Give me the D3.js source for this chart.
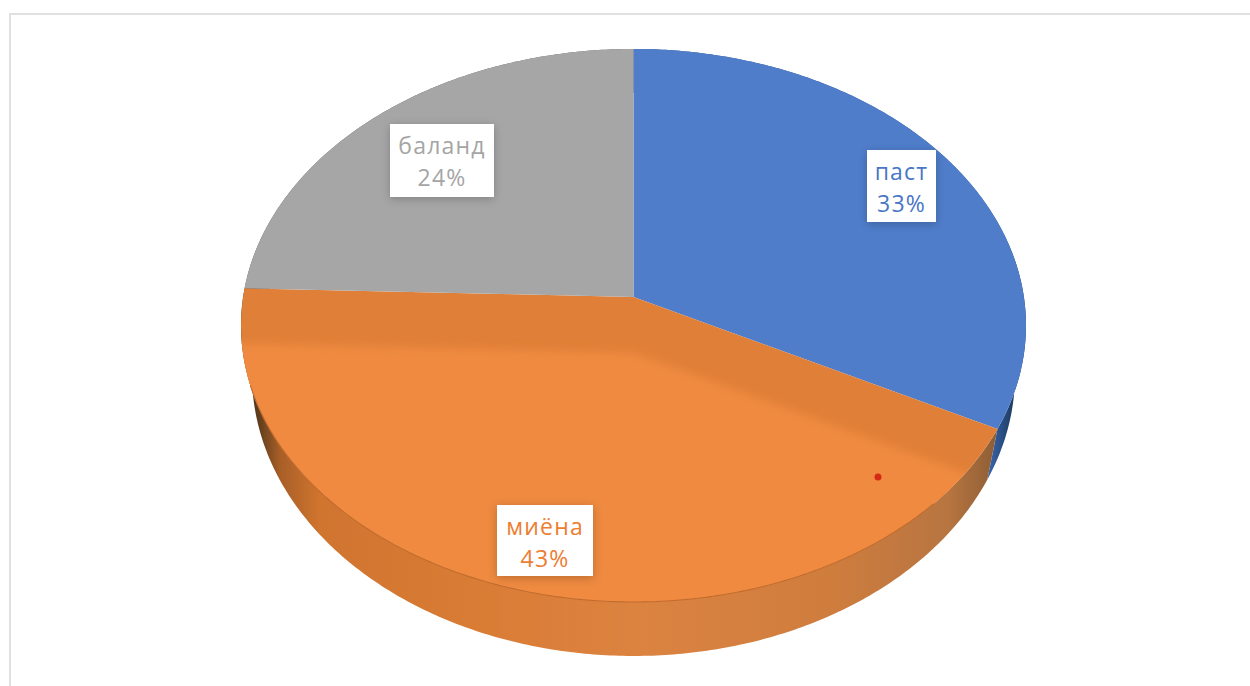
<!DOCTYPE html>
<html>
<head>
<meta charset="utf-8">
<script src="https://cdn.jsdelivr.net/npm/d3@7"></script>
<style>
html, body { margin: 0; padding: 0; background: #fff; }
svg { display: block; }
text { font-family: "Open Sans", sans-serif; }
</style>
</head>
<body>
<div id="chart"></div>
<script>
var categories = ['паст', 'миёна', 'баланд'];
var shares = [32.6, 42.91, 24.49];
var shareLabels = ['33%', '43%', '24%'];
var sliceColors = ['#4f7dca', '#ef8a41', '#a6a6a6'];
var textColors = ['#4a76c6', '#ed7d31', '#a5a5a5'];

var width = 1250;
var height = 686;

// perspective of the tilted disc
var apexX = 633.5;
var apexY = 297;
var spreadX = 390.4;
var spreadY = 273.6;
var tilt = 0.103;
var depth = 48.4;
var taper = 0.028;

// label boxes, [left, top, right, bottom]
var labelBoxes = [[867, 150, 936, 222], [497, 505, 593, 576], [390, 124, 494, 197]];

function project(x, y, z) {
	var w = 1 - tilt * y;
	return [apexX + x * spreadX * (1 - taper * z) / w, apexY + (y * spreadY + z * depth) / w];
}

function rimPoint(angle, z) {
	return project(Math.sin(angle), -Math.cos(angle), z);
}

function rimPoints(a0, a1, z) {
	var n = Math.ceil(Math.abs(a1 - a0) / 0.01);
	return d3.range(n + 1).map(function (i) {
		return rimPoint(a0 + (a1 - a0) * i / n, z);
	});
}

var line = d3.line();
var arcs = d3.pie().sort(null)(shares);

var svg = d3.select('#chart').append('svg')
	.attr('width', width)
	.attr('height', height);

var defs = svg.append('defs');

function wallGradient(id, stops) {
	var g = defs.append('linearGradient')
		.attr('id', id)
		.attr('gradientUnits', 'userSpaceOnUse')
		.attr('x1', 241).attr('x2', 1026).attr('y1', 0).attr('y2', 0);
	stops.forEach(function (s) {
		g.append('stop').attr('offset', s[0]).attr('stop-color', s[1]);
	});
}
wallGradient('wall0', [[0, '#22344f'], [0.95, '#3a68b0'], [0.985, '#1e3a60'], [1, '#1e3a60']]);
wallGradient('wall1', [[0, '#3a2a18'], [0.02, '#5a3a1c'], [0.05, '#a85f28'], [0.1, '#d0742f'],
	[0.3, '#d97c35'], [0.5, '#dc8340'], [0.75, '#cf7d3e'], [0.9, '#b87540'], [0.96, '#8f5f36'], [1, '#8f5f36']]);
wallGradient('wall2', [[0, '#555'], [1, '#777']]);

var shadow = defs.append('filter').attr('id', 'boxShadow')
	.attr('x', '-30%').attr('y', '-30%').attr('width', '160%').attr('height', '160%');
shadow.append('feDropShadow')
	.attr('dx', 0).attr('dy', 2).attr('stdDeviation', 5)
	.attr('flood-color', '#000').attr('flood-opacity', 0.22);

var soft = defs.append('filter').attr('id', 'soft')
	.attr('x', '-10%').attr('y', '-10%').attr('width', '120%').attr('height', '120%');
soft.append('feGaussianBlur').attr('stdDeviation', 4.5);

var edge = defs.append('filter').attr('id', 'edge')
	.attr('filterUnits', 'userSpaceOnUse')
	.attr('x', 0).attr('y', 0).attr('width', width).attr('height', height);
edge.append('feGaussianBlur').attr('stdDeviation', 0.7);

// frame of the chart area, open on the right and at the bottom
svg.append('path')
	.attr('d', line([[10, height], [10, 14], [width, 14]]))
	.attr('fill', 'none')
	.attr('stroke', '#e0e0e0')
	.attr('stroke-width', 2)
	.attr('filter', 'url(#edge)');

var pie = svg.append('g').attr('filter', 'url(#edge)');

// outer wall goes first, the top faces cover its back half
pie.append('g').selectAll('path')
	.data(arcs)
	.enter()
	.append('path')
	.attr('d', function (d) {
		var top = rimPoints(d.startAngle, d.endAngle, 0);
		var bottom = rimPoints(d.endAngle, d.startAngle, 1);
		return line(top.concat(bottom)) + 'Z';
	})
	.attr('fill', function (d, i) { return 'url(#wall' + i + ')'; });

function slicePath(d) {
	return line([project(0, 0, 0)].concat(rimPoints(d.startAngle, d.endAngle, 0))) + 'Z';
}

pie.append('g').selectAll('path')
	.data(arcs)
	.enter()
	.append('path')
	.attr('d', slicePath)
	.attr('fill', function (d, i) { return i === 1 ? '#e07f37' : sliceColors[i]; });

// lighter part of the orange slice, inset from its two straight edges
defs.append('clipPath').attr('id', 'orangeClip')
	.append('path').attr('d', slicePath(arcs[1]));

var insetY = 0.2;
var inset = line([project(0, insetY, 0)]
	.concat(rimPoints(arcs[1].startAngle, arcs[1].endAngle, 0).map(function (p) {
		return [apexX + (p[0] - apexX) * 1.4, apexY + (p[1] - apexY) * 1.4 + 55];
	}))) + 'Z';

pie.append('g').attr('clip-path', 'url(#orangeClip)')
	.append('path')
	.attr('d', inset)
	.attr('fill', sliceColors[1])
	.attr('filter', 'url(#soft)');

// thin darker line where the orange face meets its wall
pie.append('path')
	.attr('d', line(rimPoints(arcs[1].startAngle + 0.3, arcs[1].endAngle - 0.35, 0)))
	.attr('fill', 'none')
	.attr('stroke', '#c06c2e')
	.attr('stroke-width', 1.1);

// the small red dot on the orange slice
pie.append('circle')
	.attr('cx', 878).attr('cy', 477).attr('r', 3.5)
	.attr('fill', '#d42a12');

var labels = svg.append('g').selectAll('g')
	.data(categories)
	.enter()
	.append('g');

labels.append('rect')
	.attr('x', function (d, i) { return labelBoxes[i][0]; })
	.attr('y', function (d, i) { return labelBoxes[i][1]; })
	.attr('width', function (d, i) { return labelBoxes[i][2] - labelBoxes[i][0]; })
	.attr('height', function (d, i) { return labelBoxes[i][3] - labelBoxes[i][1]; })
	.attr('fill', '#fff')
	.attr('filter', 'url(#boxShadow)');

labels.append('text')
	.attr('x', function (d, i) { return (labelBoxes[i][0] + labelBoxes[i][2]) / 2; })
	.attr('y', function (d, i) { return labelBoxes[i][1] + 30; })
	.attr('text-anchor', 'middle')
	.attr('font-size', 23)
	.attr('letter-spacing', 1.2)
	.attr('fill', function (d, i) { return textColors[i]; })
	.text(function (d) { return d; });

labels.append('text')
	.attr('x', function (d, i) { return (labelBoxes[i][0] + labelBoxes[i][2]) / 2; })
	.attr('y', function (d, i) { return labelBoxes[i][1] + 62; })
	.attr('text-anchor', 'middle')
	.attr('font-size', 23)
	.attr('letter-spacing', 1.2)
	.attr('fill', function (d, i) { return textColors[i]; })
	.text(function (d, i) { return shareLabels[i]; });
</script>
</body>
</html>
